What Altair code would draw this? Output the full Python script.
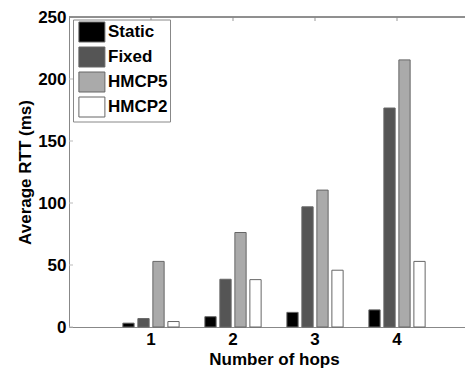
import altair as alt
import pandas as pd

hops = [1, 2, 3, 4]
series = ["Static", "Fixed", "HMCP5", "HMCP2"]
static = [3.1, 8.3, 11.8, 13.8]
fixed = [6.8, 38.5, 96.9, 176.6]
hmcp5 = [52.9, 76.2, 110.4, 215.4]
hmcp2 = [4.4, 38.2, 45.8, 52.9]
colors = ["#000000", "#555555", "#aaaaaa", "#ffffff"]
y_ticks = [0, 50, 100, 150, 200, 250]

rows = []
for name, vals in zip(series, [static, fixed, hmcp5, hmcp2]):
    for h, v in zip(hops, vals):
        rows.append({"hop": h, "series": name, "value": v})
df = pd.DataFrame(rows)

FONT = "Liberation Sans"
FS = 17
W = 396
H = 310

xscale = alt.Scale(domain=hops, paddingInner=0, paddingOuter=0.4146, align=0.603)

bars = alt.Chart(df).mark_bar(stroke="#666666", strokeWidth=1).encode(
    x=alt.X("hop:O", scale=xscale,
            axis=alt.Axis(title="Number of hops", labelAngle=0, ticks=False,
                          domainColor="#888888", labelFontSize=FS, labelFontWeight="bold",
                          labelPadding=4, titleFontSize=FS, titleFontWeight="bold",
                          titlePadding=4, labelColor="black", titleColor="black",
                          titleX=205)),
    xOffset=alt.XOffset("series:N", sort=series,
                        scale=alt.Scale(paddingInner=0.25, paddingOuter=0.858)),
    y=alt.Y("value:Q", scale=alt.Scale(domain=[0, 250], nice=False),
            axis=alt.Axis(orient="left", title="Average RTT (ms)", values=y_ticks,
                          ticks=False, grid=False,
                          domainColor="#888888", labelFontSize=FS, labelFontWeight="bold",
                          labelPadding=3, titleFontSize=FS, titleFontWeight="bold",
                          titlePadding=3, labelColor="black", titleColor="black")),
    color=alt.Color("series:N", sort=series,
                    scale=alt.Scale(domain=series, range=colors),
                    legend=alt.Legend(title=None, orient="none", legendX=4, legendY=2.5,
                                      symbolType="M-0.66,-1H1.94V1H-0.66Z", symbolSize=400,
                                      symbolStrokeColor="#666666", symbolStrokeWidth=1,
                                      symbolOpacity=1,
                                      labelFont=FONT, labelFontSize=FS, labelFontWeight="bold",
                                      labelColor="black", labelOffset=12,
                                      padding=2, rowPadding=0,
                                      strokeColor="#888888", fillColor="white")),
)

yticks = alt.Chart(pd.DataFrame({"v": y_ticks})).mark_rule(color="#bbbbbb").encode(
    y=alt.Y("v:Q"),
    x=alt.value(0), x2=alt.value(4),
)

topticks = alt.Chart(pd.DataFrame({"hop": hops})).mark_rule(color="#999999").encode(
    x=alt.X("hop:O", bandPosition=0.5),
    y=alt.value(0), y2=alt.value(4),
)

topline = alt.Chart(pd.DataFrame({"hop": hops})).mark_rule(color="#888888").encode(
    x=alt.value(0), x2=alt.value(W), y=alt.value(0),
)

chart = alt.layer(bars, yticks, topticks, topline).properties(
    width=W, height=H,
    autosize=alt.AutoSizeParams(type="none"),
    padding={"left": 61, "top": 9, "right": 0, "bottom": 44},
).configure(font=FONT).configure_view(stroke=None)

chart.save("out.html", embed_options={"renderer": "svg", "actions": False})
